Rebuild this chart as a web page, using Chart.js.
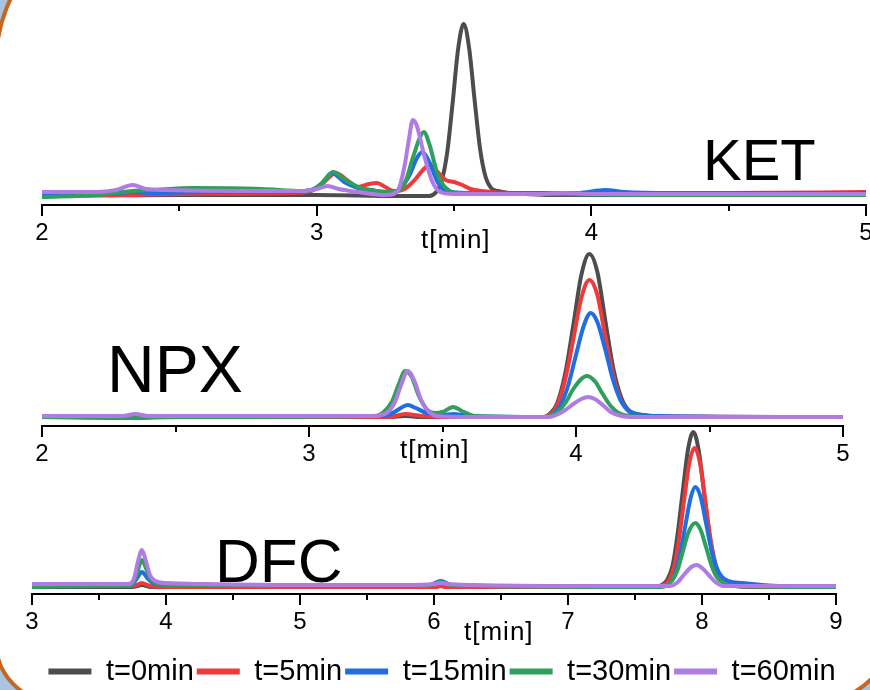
<!DOCTYPE html>
<html>
<head>
<meta charset="utf-8">
<script src="https://cdn.jsdelivr.net/npm/chart.js@4.4.1/dist/chart.umd.min.js"></script>
<style>
body { margin: 0; width: 870px; height: 690px; overflow: hidden; background: #a8c4de; position: relative;
       font-family: 'Liberation Sans', Arial, sans-serif; }
#frame { position: absolute; left: -6px; top: -87px; width: 902px; height: 791px; box-sizing: border-box;
         border: 4px solid #c8661f; background: #fff; border-radius: 150px 150px 80px 62px; }
canvas { position: absolute; left: 0; }
.cmp { position: absolute; color: #000; line-height: 1; }
.tt { position: absolute; font-size: 26px; line-height: 1; letter-spacing: 1px; color: #000; }
</style>
</head>
<body>
<div id="frame"></div>
<canvas id="ket" width="900" height="250" style="top:0"></canvas>
<canvas id="npx" width="900" height="251" style="top:220px"></canvas>
<canvas id="dfc" width="900" height="286" style="top:410px"></canvas>
<div class="cmp" style="left:703px;top:131px;font-size:58px">KET</div>
<div class="cmp" style="left:107px;top:336px;font-size:66px">NPX</div>
<div class="cmp" style="left:215px;top:530px;font-size:62px">DFC</div>
<div class="tt" style="left:421px;top:226px">t[min]</div>
<div class="tt" style="left:400px;top:436px">t[min]</div>
<div class="tt" style="left:464px;top:618px">t[min]</div>
<script>
// legend labels and colours
var seriesNames = ['t=0min', 't=5min', 't=15min', 't=30min', 't=60min'];
var seriesColors = ['#4d4d4d', '#f0393b', '#1f6fe3', '#2f9f5e', '#b07be3'];

// KET chromatograms [time, signal]
var ketT0 = [[2,0],[2.5,1],[3,1],[3.3,0],[3.41,0],[3.435,4],[3.455,15],[3.475,43],[3.495,93],[3.515,147],[3.535,172],[3.555,148],[3.575,96],[3.595,47],[3.615,19],[3.635,8],[3.66,5],[3.7,3],[3.76,2],[3.85,1],[4,1],[5,1]];
var ketT5 = [[2,1],[2.3,1],[2.5,2],[2.9,3],[2.98,5],[3.02,12],[3.07,23],[3.11,16],[3.15,9],[3.19,12],[3.22,13],[3.25,9],[3.28,5],[3.32,7],[3.36,17],[3.39,27],[3.41,31],[3.44,24],[3.47,16],[3.5,14],[3.53,11],[3.56,7],[3.6,5],[3.7,3],[4,3],[4.5,3],[5,4]];
var ketT15 = [[2,2],[2.25,2],[2.33,4],[2.4,3],[2.6,4],[2.9,4],[2.98,6],[3.02,13],[3.055,23],[3.1,14],[3.15,8],[3.2,6],[3.26,3],[3.3,6],[3.34,22],[3.365,38],[3.385,44],[3.41,34],[3.44,14],[3.47,5],[3.55,3],[3.95,3],[4.05,6],[4.12,4],[4.3,3],[5,3]];
var ketT30 = [[2,-1],[2.2,1],[2.33,5],[2.4,6],[2.55,8],[2.8,7],[2.95,5],[3,8],[3.03,16],[3.06,24],[3.1,17],[3.16,8],[3.22,5],[3.28,4],[3.32,12],[3.35,38],[3.375,58],[3.39,64],[3.41,52],[3.44,22],[3.47,8],[3.52,3],[3.8,2],[4.2,1],[5,1]];
var ketT60 = [[2,4],[2.2,4],[2.27,6],[2.33,11],[2.38,7],[2.45,6],[2.7,5],[2.95,5],[3,7],[3.04,10],[3.08,7],[3.15,4],[3.25,1],[3.28,2],[3.3,8],[3.32,30],[3.335,55],[3.35,76],[3.365,70],[3.39,42],[3.42,15],[3.45,4],[3.5,2],[3.8,2],[3.9,3],[4,2],[5,2]];

// NPX chromatograms
var npxT0 = [[2,0],[3.3,0],[3.36,1],[3.42,0],[3.88,0],[3.905,4],[3.93,14],[3.96,44],[3.99,92],[4.02,142],[4.05,163],[4.08,145],[4.11,96],[4.14,48],[4.17,19],[4.2,6],[4.25,2],[4.35,0],[5,0]];
var npxT5 = [[2,0],[3.3,0],[3.36,3],[3.42,1],[3.5,0],[3.88,0],[3.905,3],[3.93,12],[3.96,38],[3.99,78],[4.02,119],[4.05,137],[4.08,122],[4.11,80],[4.14,41],[4.17,16],[4.2,5],[4.25,1],[5,0]];
var npxT15 = [[2,0],[3.28,1],[3.32,5],[3.35,10],[3.37,12],[3.4,9],[3.44,4],[3.5,2],[3.54,3],[3.6,1],[3.89,0],[3.915,3],[3.94,11],[3.97,31],[4,62],[4.03,92],[4.055,104],[4.08,95],[4.11,67],[4.14,36],[4.17,15],[4.2,6],[4.25,2],[4.3,1],[5,0]];
var npxT30 = [[2,0],[2.35,-1],[2.5,0],[3.25,1],[3.28,5],[3.31,15],[3.335,32],[3.36,46],[3.385,40],[3.41,22],[3.44,8],[3.47,4],[3.5,5],[3.54,10],[3.58,5],[3.62,1],[3.89,0],[3.91,2],[3.935,6],[3.96,14],[3.99,28],[4.02,38],[4.04,41],[4.07,36],[4.1,23],[4.13,11],[4.16,4],[4.2,1],[4.3,0],[5,0]];
var npxT60 = [[2,1],[2.3,1],[2.35,3],[2.4,1],[3.24,1],[3.29,4],[3.32,14],[3.345,32],[3.37,46],[3.395,36],[3.42,17],[3.45,5],[3.48,1],[3.6,0],[3.9,0],[3.925,2],[3.96,7],[3.99,13],[4.02,18],[4.045,20],[4.07,18],[4.1,12],[4.13,5],[4.17,1],[4.22,0],[5,0]];

// DFC chromatograms
var dfcT0 = [[3,0],[3.75,0],[3.82,2],[3.88,0],[6,0],[6.05,1],[6.1,0],[7.66,0],[7.7,2],[7.74,7],[7.78,21],[7.815,50],[7.855,94],[7.895,137],[7.935,155],[7.975,137],[8.015,95],[8.055,52],[8.095,23],[8.135,9],[8.18,3],[8.25,1],[8.4,0],[9,0]];
var dfcT5 = [[3,1],[3.76,1],[3.82,4],[3.88,1],[4,0],[6,0],[6.05,1],[6.1,0],[7.67,0],[7.71,2],[7.75,6],[7.79,19],[7.825,45],[7.865,85],[7.905,124],[7.945,139],[7.985,124],[8.025,86],[8.065,47],[8.105,21],[8.145,8],[8.19,3],[8.26,1],[9,0]];
var dfcT15 = [[3,2],[3.74,2],[3.78,8],[3.82,15],[3.86,9],[3.9,4],[4,2],[5,1],[5.95,1],[6.05,6],[6.13,2],[6.3,1],[7.72,1],[7.76,4],[7.8,13],[7.835,32],[7.875,61],[7.915,89],[7.95,100],[7.99,90],[8.03,64],[8.07,37],[8.11,19],[8.15,10],[8.2,6],[8.3,4],[8.45,2],[8.6,1],[9,1]];
var dfcT30 = [[3,0],[3.6,1],[3.74,2],[3.78,12],[3.82,27],[3.85,19],[3.88,9],[3.92,4],[4,2],[5,1],[5.95,1],[6.05,5],[6.12,2],[6.3,1],[7.7,0],[7.74,2],[7.78,7],[7.82,18],[7.86,37],[7.9,55],[7.95,64],[7.99,57],[8.03,40],[8.07,22],[8.11,10],[8.16,4],[8.22,1],[9,0]];
var dfcT60 = [[3,3],[3.5,3],[3.72,3],[3.76,8],[3.79,25],[3.82,37],[3.85,26],[3.88,12],[3.92,6],[4,4],[4.3,3],[5,2],[5.8,2],[6,3],[6.05,4],[6.1,3],[6.3,2],[7,1],[7.76,1],[7.82,5],[7.87,13],[7.92,20],[7.96,22],[8,19],[8.05,12],[8.1,5],[8.16,1],[9,1]];

Chart.defaults.font.family = "'Liberation Sans', Arial, sans-serif";
Chart.defaults.color = '#000';

// major / minor tick marks under the x axis
var tickMarks = {
    id: 'tickMarks',
    afterDraw: function (chart) {
        var s = chart.scales.x, ctx = chart.ctx;
        ctx.save();
        ctx.strokeStyle = '#000';
        ctx.lineWidth = 2;
        s.ticks.forEach(function (t) {
            var px = Math.round(s.getPixelForValue(t.value));
            var len = Number.isInteger(t.value) ? 11 : 6;
            ctx.beginPath();
            ctx.moveTo(px, s.top);
            ctx.lineTo(px, s.top + len);
            ctx.stroke();
        });
        ctx.restore();
    }
};

function makeSets(list) {
    // drawn last = on top, so t=60min comes first
    var sets = [];
    for (var i = list.length - 1; i >= 0; i--) {
        sets.push({
            label: seriesNames[i],
            data: list[i].map(function (p) { return { x: p[0], y: p[1] }; }),
            borderColor: seriesColors[i],
            backgroundColor: seriesColors[i],
            borderWidth: 4,
            pointRadius: 0,
            cubicInterpolationMode: 'monotone',
            borderJoinStyle: 'round',
            borderCapStyle: 'round',
            fill: false
        });
    }
    return sets;
}

function panel(id, list, xmin, xmax, ymin, ymax, pad, axisH, rightGap, showLegend) {
    new Chart(document.getElementById(id), {
        type: 'line',
        data: { datasets: makeSets(list) },
        options: {
            responsive: false,
            animation: false,
            layout: { padding: pad },
            plugins: {
                tooltip: { enabled: false },
                legend: {
                    display: showLegend,
                    position: 'bottom',
                    reverse: true,
                    labels: {
                        boxWidth: 43,
                        boxHeight: 6,
                        padding: 3,
                        font: { size: 29 },
                        color: '#000',
                        generateLabels: function (chart) {
                            return Chart.defaults.plugins.legend.labels.generateLabels(chart).map(function (l) {
                                l.lineWidth = 0;
                                return l;
                            });
                        }
                    }
                }
            },
            scales: {
                x: {
                    type: 'linear',
                    min: xmin,
                    max: xmax,
                    afterFit: function (s) { s.height = axisH; },
                    grid: { display: false, drawTicks: false },
                    border: { display: true, color: '#000', width: 2 },
                    ticks: {
                        stepSize: 0.5,
                        padding: 14,
                        maxRotation: 0,
                        font: { size: 24 },
                        color: '#000',
                        callback: function (v) { return Number.isInteger(v) ? v : ''; }
                    }
                },
                y: {
                    display: true,
                    position: 'right',
                    min: ymin,
                    max: ymax,
                    afterFit: function (s) { s.width = rightGap; },
                    grid: { display: false },
                    border: { display: false },
                    ticks: { display: false }
                }
            }
        },
        plugins: [tickMarks]
    });
}

panel('ket', [ketT0, ketT5, ketT15, ketT30, ketT60], 2, 5, -9, 180, { left: 42, right: 34, top: 16, bottom: 0 }, 45, 0, false);
panel('npx', [npxT0, npxT5, npxT15, npxT30, npxT60], 2, 5, -9, 177, { left: 42, right: 57, top: 20, bottom: 0 }, 45, 0, false);
panel('dfc', [dfcT0, dfcT5, dfcT15, dfcT30, dfcT60], 3, 9, -7, 162, { left: 32, right: 48, top: 15, bottom: 0 }, 60, 16, true);
</script>
</body>
</html>
